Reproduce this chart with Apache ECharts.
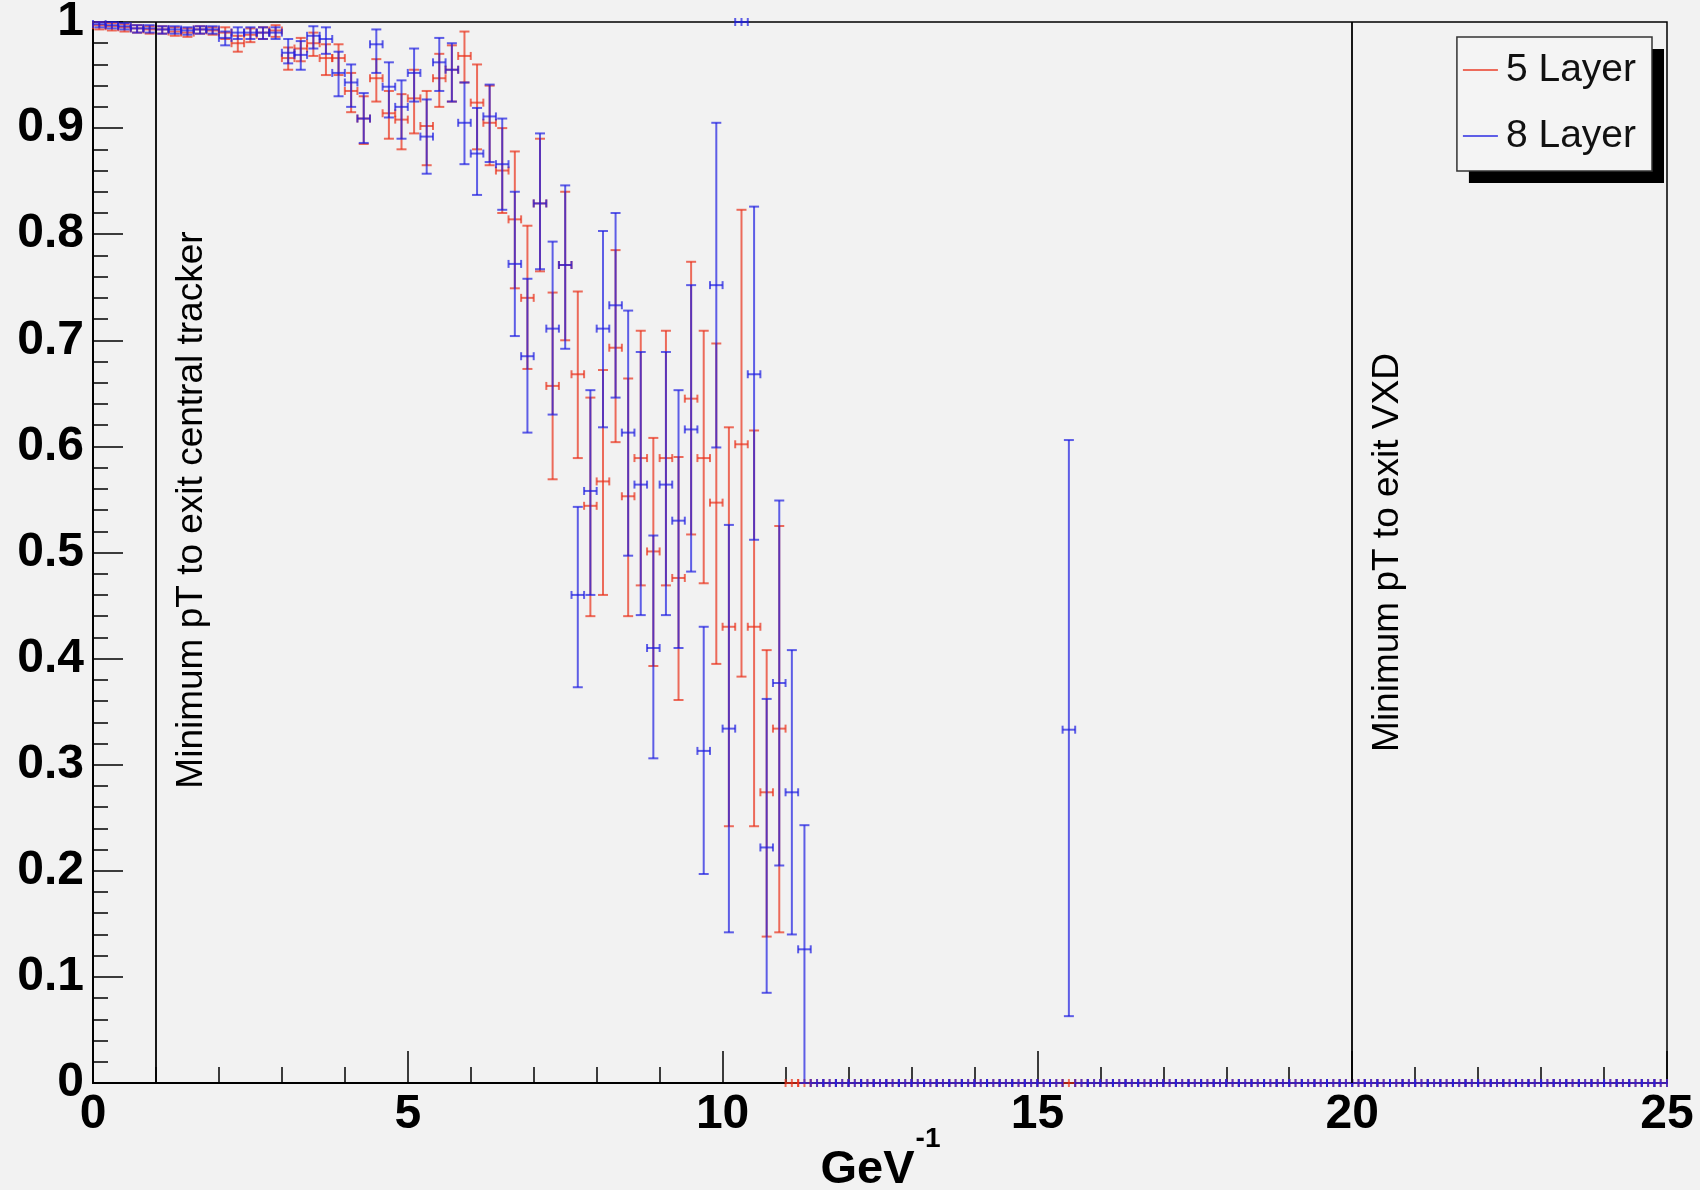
<!DOCTYPE html>
<html>
<head>
<meta charset="utf-8">
<script src="https://cdn.jsdelivr.net/npm/echarts@6/dist/echarts.min.js"></script>
<style>
html, body { margin: 0; padding: 0; background: #f2f2f2; }
#chart { width: 1700px; height: 1190px; }
</style>
</head>
<body>
<div id="chart"></div>
<script>
// Tracking efficiency versus 1/pT, histogrammed in 0.2 GeV^-1 bins over [0, 25].
const X_MIN = 0;
const BIN_WIDTH = 0.2;

const seriesNames = ['5 Layer', '8 Layer'];
const xTitle = ['GeV', '-1'];

// Efficiency per bin (125 bins) and the lower / upper ends of its error bar.
const eff5 = [
  0.997, 0.996, 0.995, 0.994, 0.993, 0.993, 0.991, 0.990, 0.993, 0.992,
  0.990, 0.980, 0.988, 0.990, 0.992, 0.966, 0.975, 0.980, 0.966, 0.966,
  0.935, 0.909, 0.947, 0.914, 0.908, 0.928, 0.902, 0.947, 0.955, 0.968,
  0.924, 0.905, 0.860, 0.814, 0.740, 0.829, 0.657, 0.771, 0.668, 0.544,
  0.567, 0.693, 0.553, 0.589, 0.501, 0.589, 0.476, 0.645, 0.589, 0.547,
  0.430, 0.602, 0.430, 0.274, 0.334, 0, 0, 0, 0, 0,
  0, 0, 0, 0, 0, 0, 0, 0, 0, 0,
  0, 0, 0, 0, 0, 0, 0, 0, 0, 0,
  0, 0, 0, 0, 0, 0, 0, 0, 0, 0,
  0, 0, 0, 0, 0, 0, 0, 0, 0, 0,
  0, 0, 0, 0, 0, 0, 0, 0, 0, 0,
  0, 0, 0, 0, 0, 0, 0, 0, 0, 0,
  0, 0, 0, 0, 0
];
const low5 = [
  0.993, 0.992, 0.991, 0.990, 0.989, 0.989, 0.987, 0.986, 0.989, 0.988,
  0.984, 0.972, 0.981, 0.984, 0.986, 0.955, 0.963, 0.968, 0.950, 0.950,
  0.915, 0.885, 0.925, 0.890, 0.880, 0.895, 0.865, 0.920, 0.925, 0.943,
  0.880, 0.865, 0.820, 0.749, 0.673, 0.765, 0.569, 0.700, 0.589, 0.440,
  0.460, 0.604, 0.440, 0.469, 0.393, 0.469, 0.361, 0.517, 0.471, 0.395,
  0.242, 0.383, 0.242, 0.138, 0.142, 0, 0, 0, 0, 0,
  0, 0, 0, 0, 0, 0, 0, 0, 0, 0,
  0, 0, 0, 0, 0, 0, 0, 0, 0, 0,
  0, 0, 0, 0, 0, 0, 0, 0, 0, 0,
  0, 0, 0, 0, 0, 0, 0, 0, 0, 0,
  0, 0, 0, 0, 0, 0, 0, 0, 0, 0,
  0, 0, 0, 0, 0, 0, 0, 0, 0, 0,
  0, 0, 0, 0, 0
];
const high5 = [
  1.000, 0.999, 0.998, 0.997, 0.996, 0.996, 0.995, 0.994, 0.996, 0.995,
  0.995, 0.987, 0.994, 0.995, 0.997, 0.976, 0.985, 0.990, 0.979, 0.979,
  0.952, 0.930, 0.965, 0.935, 0.932, 0.955, 0.935, 0.970, 0.978, 0.991,
  0.960, 0.940, 0.900, 0.878, 0.808, 0.890, 0.745, 0.840, 0.746, 0.646,
  0.672, 0.785, 0.664, 0.709, 0.608, 0.709, 0.590, 0.774, 0.709, 0.697,
  0.618, 0.823, 0.615, 0.408, 0.525, 0, 0, 0, 0, 0,
  0, 0, 0, 0, 0, 0, 0, 0, 0, 0,
  0, 0, 0, 0, 0, 0, 0, 0, 0, 0,
  0, 0, 0, 0, 0, 0, 0, 0, 0, 0,
  0, 0, 0, 0, 0, 0, 0, 0, 0, 0,
  0, 0, 0, 0, 0, 0, 0, 0, 0, 0,
  0, 0, 0, 0, 0, 0, 0, 0, 0, 0,
  0, 0, 0, 0, 0
];

const eff8 = [
  0.998, 0.997, 0.996, 0.994, 0.994, 0.993, 0.993, 0.992, 0.993, 0.993,
  0.985, 0.990, 0.990, 0.990, 0.990, 0.971, 0.969, 0.987, 0.984, 0.952,
  0.943, 0.909, 0.979, 0.939, 0.920, 0.952, 0.892, 0.962, 0.955, 0.905,
  0.876, 0.911, 0.866, 0.772, 0.685, 0.829, 0.711, 0.771, 0.460, 0.558,
  0.711, 0.733, 0.613, 0.564, 0.410, 0.564, 0.530, 0.616, 0.313, 0.752,
  0.334, 1.000, 0.668, 0.222, 0.377, 0.274, 0.126, 0, 0, 0,
  0, 0, 0, 0, 0, 0, 0, 0, 0, 0,
  0, 0, 0, 0, 0, 0, 0, 0.333, 0, 0,
  0, 0, 0, 0, 0, 0, 0, 0, 0, 0,
  0, 0, 0, 0, 0, 0, 0, 0, 0, 0,
  0, 0, 0, 0, 0, 0, 0, 0, 0, 0,
  0, 0, 0, 0, 0, 0, 0, 0, 0, 0,
  0, 0, 0, 0, 0
];
const low8 = [
  0.995, 0.994, 0.993, 0.990, 0.990, 0.989, 0.989, 0.988, 0.989, 0.989,
  0.978, 0.984, 0.984, 0.984, 0.984, 0.961, 0.955, 0.975, 0.970, 0.930,
  0.920, 0.886, 0.952, 0.910, 0.890, 0.925, 0.857, 0.935, 0.925, 0.866,
  0.837, 0.868, 0.823, 0.704, 0.613, 0.767, 0.630, 0.692, 0.373, 0.460,
  0.618, 0.646, 0.497, 0.441, 0.306, 0.441, 0.410, 0.482, 0.197, 0.599,
  0.142, 1.000, 0.512, 0.085, 0.205, 0.140, 0.000, 0, 0, 0,
  0, 0, 0, 0, 0, 0, 0, 0, 0, 0,
  0, 0, 0, 0, 0, 0, 0, 0.063, 0, 0,
  0, 0, 0, 0, 0, 0, 0, 0, 0, 0,
  0, 0, 0, 0, 0, 0, 0, 0, 0, 0,
  0, 0, 0, 0, 0, 0, 0, 0, 0, 0,
  0, 0, 0, 0, 0, 0, 0, 0, 0, 0,
  0, 0, 0, 0, 0
];
const high8 = [
  1.000, 1.000, 0.999, 0.997, 0.997, 0.996, 0.996, 0.995, 0.996, 0.996,
  0.991, 0.995, 0.995, 0.995, 0.995, 0.984, 0.982, 0.996, 0.995, 0.972,
  0.960, 0.933, 0.993, 0.962, 0.945, 0.975, 0.927, 0.985, 0.980, 0.943,
  0.919, 0.941, 0.909, 0.840, 0.758, 0.895, 0.793, 0.846, 0.543, 0.653,
  0.803, 0.820, 0.728, 0.689, 0.516, 0.689, 0.653, 0.752, 0.430, 0.905,
  0.526, 1.000, 0.826, 0.362, 0.549, 0.408, 0.243, 0, 0, 0,
  0, 0, 0, 0, 0, 0, 0, 0, 0, 0,
  0, 0, 0, 0, 0, 0, 0, 0.606, 0, 0,
  0, 0, 0, 0, 0, 0, 0, 0, 0, 0,
  0, 0, 0, 0, 0, 0, 0, 0, 0, 0,
  0, 0, 0, 0, 0, 0, 0, 0, 0, 0,
  0, 0, 0, 0, 0, 0, 0, 0, 0, 0,
  0, 0, 0, 0, 0
];

// Minimum-pT thresholds (in GeV^-1) and their captions.
const thresholds = [1, 20];
const thresholdLabels = ['Minimum pT to exit central tracker', 'Minimum pT to exit VXD'];

const RED = 'rgba(234, 48, 26, 0.7)';
const BLUE = 'rgba(30, 30, 225, 0.7)';
const FONT = '"Liberation Sans", Arial, Helvetica, sans-serif';

function toPoints(eff, low, high) {
  return eff.map((v, i) => [X_MIN + BIN_WIDTH * (i + 0.5), v, low[i], high[i]]);
}

// Histogram drawn with error bars: horizontal bar spans the bin, vertical bar the uncertainty,
// and a short tick marks the bin centre.
function errorBars(color) {
  return function (params, api) {
    const x = api.value(0), y = api.value(1), lo = api.value(2), hi = api.value(3);
    const c = api.coord([x, y]);
    const left = api.coord([x - BIN_WIDTH / 2, y])[0];
    const right = api.coord([x + BIN_WIDTH / 2, y])[0];
    const yLo = api.coord([x, lo])[1];
    const yHi = api.coord([x, hi])[1];
    const style = { stroke: color, lineWidth: 2, fill: null };
    const children = [];
    const seg = (x1, y1, x2, y2) => children.push({ type: 'line', shape: { x1, y1, x2, y2 }, style });
    seg(left, c[1], right, c[1]);
    seg(left, c[1] - 4, left, c[1] + 4);
    seg(right, c[1] - 4, right, c[1] + 4);
    if (hi > lo) {
      seg(c[0], yLo, c[0], yHi);
      seg(c[0] - 5, yLo, c[0] + 5, yLo);
      seg(c[0] - 5, yHi, c[0] + 5, yHi);
    } else {
      seg(c[0], c[1] - 4, c[0], c[1] + 4);
    }
    return { type: 'group', children };
  };
}

const chart = echarts.init(document.getElementById('chart'), null, { renderer: 'canvas' });

const tickLabel = { fontSize: 48, fontWeight: 'bold', fontFamily: FONT, color: '#000' };

// Text measuring for the legend shadow and the axis title.
const measureCtx = document.createElement('canvas').getContext('2d');
function textWidth(str, font) { measureCtx.font = font; return measureCtx.measureText(str).width; }

// Legend box geometry (its drop shadow is drawn separately behind it).
const LEGEND_RIGHT = 48, LEGEND_TOP = 37;
const LEGEND_PAD = [11, 16, 13, 6];
const LEGEND_FONT = 39, LEGEND_LINE = 44, LEGEND_GAP = 22, LEGEND_ICON = 35;
const legendTextW = Math.max(...seriesNames.map(s => textWidth(s, LEGEND_FONT + 'px ' + FONT)));
const legendW = LEGEND_PAD[3] + LEGEND_ICON + 5 + 3 + legendTextW + LEGEND_PAD[1];
const legendH = LEGEND_PAD[0] + seriesNames.length * LEGEND_LINE + (seriesNames.length - 1) * LEGEND_GAP + LEGEND_PAD[2];

chart.setOption({
  animation: false,
  backgroundColor: '#f2f2f2',
  grid: {
    left: 93, right: 33, top: 22, bottom: 107,
    containLabel: false,
    outerBoundsMode: 'none',
    show: true, borderColor: '#000', borderWidth: 1.5, backgroundColor: 'transparent'
  },
  legend: {
    orient: 'vertical',
    right: LEGEND_RIGHT, top: LEGEND_TOP,
    backgroundColor: '#f4f4f4',
    borderColor: '#333', borderWidth: 1.5, borderRadius: 0,
    padding: LEGEND_PAD,
    itemGap: LEGEND_GAP,
    itemWidth: LEGEND_ICON, itemHeight: 2,
    icon: 'rect',
    z: 10,
    textStyle: { fontSize: LEGEND_FONT, fontFamily: FONT, color: '#111', lineHeight: LEGEND_LINE, padding: [0, 0, 0, 3] },
    data: seriesNames
  },
  xAxis: {
    type: 'value', min: 0, max: 25, interval: 5,
    axisLine: { show: true, onZero: false, lineStyle: { color: '#000', width: 2 } },
    axisTick: { show: true, inside: true, length: 32, lineStyle: { color: '#000', width: 1.5 } },
    minorTick: { show: true, splitNumber: 5, length: 16, lineStyle: { color: '#000', width: 1.5 } },
    splitLine: { show: false },
    axisLabel: Object.assign({ margin: 8 }, tickLabel)
  },
  yAxis: {
    type: 'value', min: 0, max: 1, interval: 0.1,
    axisLine: { show: true, onZero: false, lineStyle: { color: '#000', width: 2 } },
    axisTick: { show: true, inside: true, length: 30, lineStyle: { color: '#000', width: 1.5 } },
    minorTick: { show: true, splitNumber: 5, length: 15, lineStyle: { color: '#000', width: 1.5 } },
    splitLine: { show: false },
    axisLabel: Object.assign({ margin: 9 }, tickLabel)
  },
  series: [
    {
      name: seriesNames[0],
      type: 'custom',
      itemStyle: { color: RED },
      renderItem: errorBars(RED),
      encode: { x: 0, y: 1 },
      data: toPoints(eff5, low5, high5),
      z: 2,
      markLine: {
        silent: true, symbol: 'none', animation: false,
        label: { show: false },
        lineStyle: { color: '#000', width: 1.8, type: 'solid' },
        data: thresholds.map(v => ({ xAxis: v }))
      }
    },
    {
      name: seriesNames[1],
      type: 'custom',
      itemStyle: { color: BLUE },
      renderItem: errorBars(BLUE),
      encode: { x: 0, y: 1 },
      data: toPoints(eff8, low8, high8),
      z: 3
    }
  ]
});

// Rotated captions next to each threshold line.
const captionY = [0.54, 0.50];
const graphics = thresholds.map((t, i) => {
  const p = chart.convertToPixel({ gridIndex: 0 }, [t, captionY[i]]);
  return {
    type: 'text',
    x: p[0] + 17,
    y: p[1],
    rotation: Math.PI / 2,
    silent: true,
    style: {
      text: thresholdLabels[i],
      font: '37px ' + FONT,
      fill: '#000',
      textAlign: 'center',
      textVerticalAlign: 'top',
      align: 'center',
      verticalAlign: 'top'
    }
  };
});

// Legend drop shadow.
const legendRightEdge = chart.getWidth() - LEGEND_RIGHT;
graphics.push({
  type: 'rect',
  silent: true,
  z: 5,
  shape: { x: legendRightEdge - legendW + 12, y: LEGEND_TOP + 12, width: legendW, height: legendH },
  style: { fill: '#000' }
});

// X-axis title "GeV^-1", centred under the axis with a raised exponent.
const titleFont = 'bold 47px ' + FONT;
const supFont = 'bold 28px ' + FONT;
const wMain = textWidth(xTitle[0], titleFont);
const wSup = textWidth(xTitle[1], supFont);
const axisStart = chart.convertToPixel({ gridIndex: 0 }, [0, 0]);
const axisEnd = chart.convertToPixel({ gridIndex: 0 }, [25, 0]);
const titleLeft = (axisStart[0] + axisEnd[0]) / 2 - (wMain + wSup) / 2;
graphics.push({
  type: 'text', silent: true,
  x: titleLeft, y: axisStart[1] + 64,
  style: { text: xTitle[0], font: titleFont, fill: '#000', align: 'left', verticalAlign: 'top', textAlign: 'left', textVerticalAlign: 'top' }
});
graphics.push({
  type: 'text', silent: true,
  x: titleLeft + wMain + 1, y: axisStart[1] + 42,
  style: { text: xTitle[1], font: supFont, fill: '#000', align: 'left', verticalAlign: 'top', textAlign: 'left', textVerticalAlign: 'top' }
});

chart.setOption({ graphic: graphics });
</script>
</body>
</html>
